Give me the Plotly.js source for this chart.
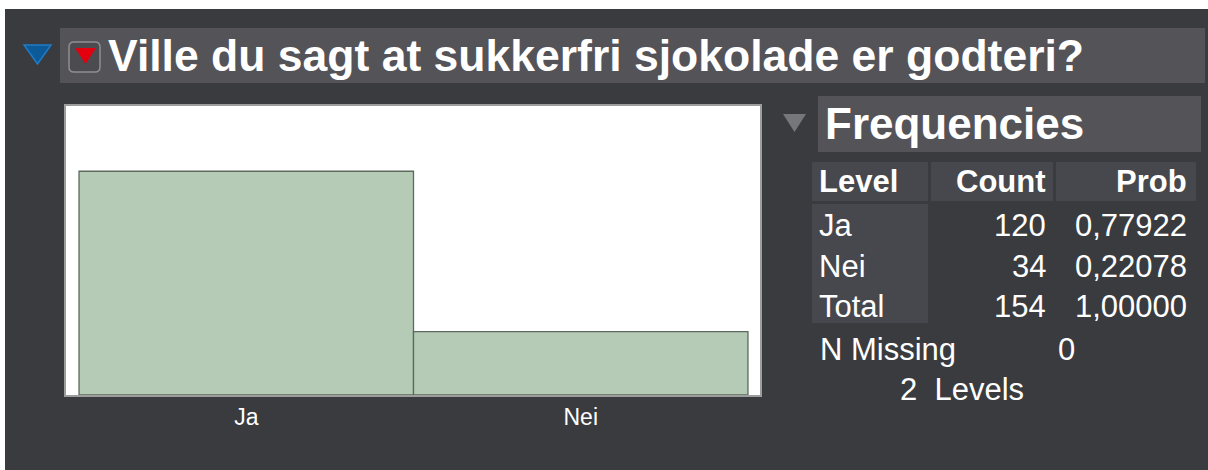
<!DOCTYPE html>
<html>
<head>
<meta charset="utf-8">
<script src="https://cdn.plot.ly/plotly-3.0.1.min.js"></script>
<style>html,body{margin:0;padding:0;background:#fff;}#chart{width:1208px;height:470px;}</style>
</head>
<body>
<div id="chart"></div>
<script>
// ---- data ----
const chartTitle = 'Ville du sagt at sukkerfri sjokolade er godteri?';
const levels = ['Ja', 'Nei'];
const counts = [120, 34];
const probs = [0.77922, 0.22078];
const nMissing = 0;
const tableHeaders = ['Level', 'Count', 'Prob'];

// ---- geometry helpers (pixel -> paper) ----
const W = 1208, H = 470;
const L = 66, T = 106, R = 760, B = 395;
const PW = R - L, PH = B - T;
const px = x => (x - L) / PW;
const py = y => 1 - (y - T) / PH;

const FONT = '"Liberation Sans", Arial, Helvetica, sans-serif';
const DARK = '#393b3f';
const BAR = '#545358';
const CELL = '#46484d';

const total = counts.reduce((a, b) => a + b, 0);
const totalProb = probs.reduce((a, b) => a + b, 0);
const fmtP = p => p.toFixed(5).replace('.', ',');

function rect(x0, y0, x1, y1, fill, extra) {
  return Object.assign({type: 'rect', xref: 'paper', yref: 'paper',
    x0: px(x0), x1: px(x1), y0: py(y1), y1: py(y0),
    fillcolor: fill, line: {width: 0}, layer: 'below'}, extra || {});
}
function pathShape(cmds, fill, lineColor, lw) {
  const d = cmds.map(c => c[0] + (c.length > 1 ? ' ' + c.slice(1).map((v, i) => i % 2 === 0 ? px(v) : py(v)).join(',') : '')).join(' ');
  return {type: 'path', xref: 'paper', yref: 'paper', path: d, fillcolor: fill,
    line: {color: lineColor || fill, width: lw || 0}, layer: 'above'};
}
function tri(pts, fill, lineColor, lw) {
  return pathShape([['M', pts[0][0], pts[0][1]], ['L', pts[1][0], pts[1][1]], ['L', pts[2][0], pts[2][1]], ['Z']], fill, lineColor, lw);
}
function roundRect(x0, y0, x1, y1, r, fill, lineColor, lw) {
  return pathShape([
    ['M', x0 + r, y0], ['L', x1 - r, y0], ['Q', x1, y0, x1, y0 + r],
    ['L', x1, y1 - r], ['Q', x1, y1, x1 - r, y1],
    ['L', x0 + r, y1], ['Q', x0, y1, x0, y1 - r],
    ['L', x0, y0 + r], ['Q', x0, y0, x0 + r, y0], ['Z']], fill, lineColor, lw);
}
function txt(text, x, ymid, anchor, size, bold, color) {
  return {text: text, xref: 'paper', yref: 'paper', x: px(x), y: py(ymid),
    xanchor: anchor, yanchor: 'middle', showarrow: false, borderpad: 0, borderwidth: 0,
    font: {family: FONT, size: size, color: color || '#ffffff', weight: bold ? 'bold' : 'normal'}};
}

const shapes = [
  rect(0, 0, W, 9, '#ffffff'),
  rect(0, 0, 5, H, '#ffffff'),
  rect(60, 28, 1205, 83, BAR),
  rect(818, 96, 1201, 152, BAR),
  rect(812, 162, 928, 201, CELL),
  rect(931, 162, 1053, 201, CELL),
  rect(1056, 162, 1196, 201, CELL),
  rect(812, 204, 928, 323, CELL),
  roundRect(69, 42, 100, 72, 5, '#4c4b50', '#8e8e92', 1.5),
  tri([[75, 48], [96, 48], [85.5, 64]], '#e3000f'),
  tri([[24, 45], [51, 45], [37.5, 64]], '#0c5a98', '#1f7cc8', 1.5),
  tri([[783, 114], [806, 114], [794.5, 132]], '#77777b')
];

const annotations = [
  txt('Frequencies', 825, 124, 'left', 44, true),
  txt(tableHeaders[0], 819, 181.5, 'left', 31, true),
  txt(tableHeaders[1], 1046, 181.5, 'right', 31, true),
  txt(tableHeaders[2], 1187, 181.5, 'right', 31, true)
];
const rowY = [226, 266, 306];
const rowLabels = levels.concat(['Total']);
const rowCounts = counts.concat([total]);
const rowProbs = probs.concat([totalProb]);
rowLabels.forEach((lab, i) => {
  annotations.push(txt(lab, 819, rowY[i], 'left', 31, false));
  annotations.push(txt(String(rowCounts[i]), 1046, rowY[i], 'right', 31, false));
  annotations.push(txt(fmtP(rowProbs[i]), 1187, rowY[i], 'right', 31, false));
});
annotations.push(txt('N Missing', 820, 349, 'left', 31, false));
annotations.push(txt(String(nMissing), 1066, 349, 'center', 31, false));
annotations.push(txt(levels.length + '\u00a0\u00a0Levels', 900, 389, 'left', 31, false));

const trace = {
  type: 'bar', x: levels, y: counts,
  marker: {color: '#b5cbb6', line: {color: '#5b6a5c', width: 1.3}},
  width: 1, hoverinfo: 'skip'
};

const layout = {
  width: W, height: H,
  margin: {l: L, r: W - R, t: T, b: H - B, pad: 0},
  paper_bgcolor: DARK, plot_bgcolor: '#ffffff',
  showlegend: false, bargap: 0,
  title: {text: chartTitle, xref: 'container', yref: 'container',
    x: 108 / W, xanchor: 'left', y: 1 - 55.5 / H, yanchor: 'middle',
    font: {family: FONT, size: 44.5, color: '#ffffff', weight: 'bold'}},
  xaxis: {type: 'category', range: [-0.539, 1.536], showgrid: false, zeroline: false,
    showline: true, mirror: true, linecolor: '#9d9d9d', linewidth: 2,
    ticks: '', tickfont: {family: FONT, size: 23, color: '#ffffff'}, fixedrange: true},
  yaxis: {range: [0, 155], showgrid: false, zeroline: false, showticklabels: false,
    showline: true, mirror: true, linecolor: '#9d9d9d', linewidth: 2, ticks: '', fixedrange: true},
  shapes: shapes,
  annotations: annotations
};

Plotly.newPlot('chart', [trace], layout, {displayModeBar: false, staticPlot: true});
</script>
</body>
</html>
